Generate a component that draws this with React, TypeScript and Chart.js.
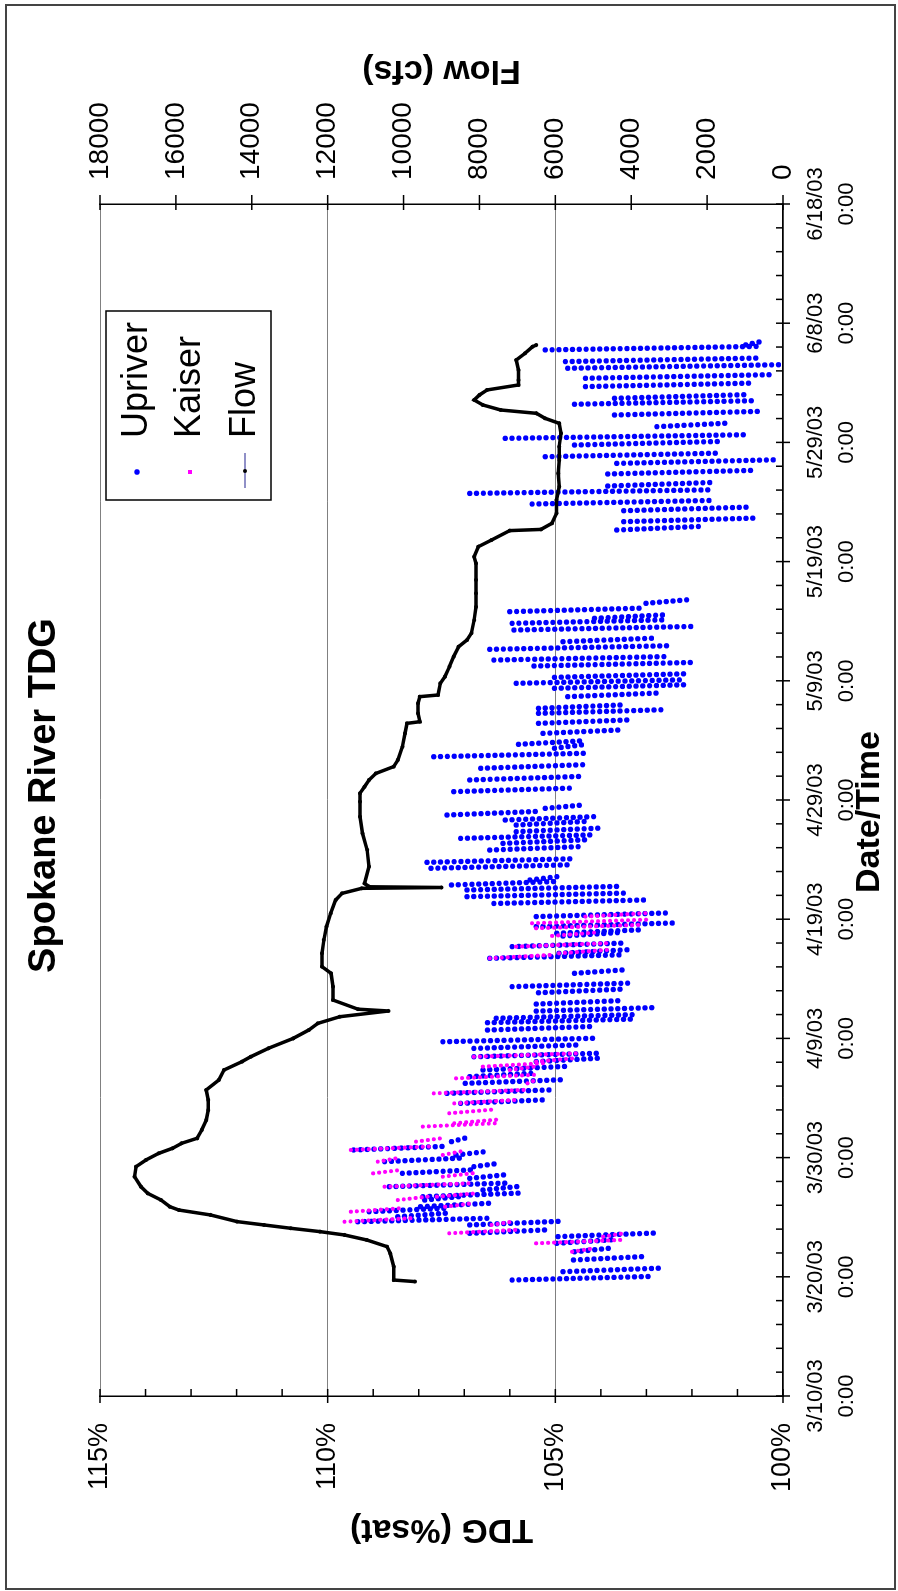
import React, { useEffect, useRef } from 'react';
import { Chart, registerables } from 'chart.js';

Chart.register(...registerables);

const FONT = "'Liberation Sans', Arial, Helvetica, sans-serif";

// ---------- data (x = days since 3/10/03 0:00) ----------
const dateTickLabels = ['3/10/03', '3/20/03', '3/30/03', '4/9/03', '4/19/03', '4/29/03', '5/9/03', '5/19/03', '5/29/03', '6/8/03', '6/18/03'];
const dateTimeLabel = '0:00';

// Upriver daily swings: day, max TDG, min TDG (%)
const upriverDay = [9.73, 10.43, 11.41, 12.1, 12.81, 13.37, 13.65, 14.35, 14.62, 15.04, 15.46, 15.88, 16.44, 16.72, 17.28, 17.56, 18.26, 18.68, 19.24, 19.66, 20.22, 20.64, 21.34,
  24.55, 25.39, 26.23, 26.79, 27.35, 28.05, 28.46, 29.16, 29.72, 30.7, 31.32, 31.69, 32.29, 32.88, 33.83, 34.34, 35.46, 36.72, 37.14, 37.7, 38.59, 38.82, 39.38, 40.22, 41.32, 41.89, 42.45, 42.87, 43.29, 44.27, 44.77, 45.8, 46.36, 46.78, 47.34, 47.9, 48.32, 48.74, 49.3,
  50.7, 51.68, 52.66, 53.63, 54.34, 54.67, 55.59, 56.43, 57.27, 57.69, 58.67, 59.37, 59.79, 60.29, 61.24, 61.74, 62.64, 63.28, 64.26, 64.82, 65.24, 65.8, 66.5,
  72.65, 73.35, 74.27, 74.83, 75.72, 76.34, 77.35, 78.24, 78.8, 79.78, 80.34, 81.32, 82.3, 83.2, 83.7, 84.68, 85.38, 86.22, 86.78, 87.76, 88.18];
const upriverMax = [105.95, 104.83, 104.6, 104.58, 104.97, 104.94, 106.88, 106.88, 109.34, 108.46, 109.09, 107.96, 107.87, 107.91, 106.59, 108.65, 106.88, 108.36, 106.79, 108.75, 107.18, 109.43, 107.28,
  107.08, 107.38, 106.98, 106.88, 106.59, 105.42, 106.79, 106.79, 107.47, 106.49, 106.49, 106.3, 105.42, 105.42, 105.37, 105.95, 104.58, 106.44, 104.92, 105.95, 104.83, 104.97, 105.42, 105.42, 106.35, 106.94, 106.94, 107.28, 105.56, 107.73, 107.82, 106.44, 106.15, 107.08, 105.86, 105.86, 106.1, 107.38, 105.22,
  107.23, 106.88, 106.64, 107.67, 105.02, 105.81, 105.27, 105.37, 105.37, 105.37, 104.73, 105.02, 105.86, 105.02, 105.47, 106.35, 106.44, 104.83, 105.91, 105.95, 104.14, 106.0, 103.01,
  103.65, 103.5, 103.5, 105.51, 106.88, 103.85, 103.85, 103.65, 105.22, 104.58, 106.1, 102.77, 103.7, 104.58, 103.7, 104.34, 104.34, 104.73, 104.78, 105.22, 100.82];
const upriverMin = [102.91, 102.67, 103.0, 103.8, 103.75, 102.82, 105.12, 104.94, 106.4, 107.38, 107.38, 106.4, 107.08, 105.81, 105.81, 106.1, 106.1, 106.79, 106.2, 107.08, 106.49, 107.47, 106.98,
  105.22, 105.02, 104.87, 105.42, 104.78, 104.0, 104.0, 104.44, 104.04, 104.2, 103.31, 103.31, 102.77, 103.5, 103.56, 103.36, 103.46, 103.46, 103.4, 103.46, 103.56, 103.06, 102.42, 102.57, 102.96, 103.46, 103.65, 104.92, 104.92, 104.63, 104.63, 104.39, 104.34, 104.14, 104.04, 104.34, 104.04, 105.42, 104.34,
  104.63, 104.44, 104.39, 104.24, 104.39, 104.39, 103.5, 103.31, 102.67, 103.44, 102.77, 102.13, 102.13, 102.13, 101.98, 102.47, 102.52, 102.82, 101.98, 102.52, 102.57, 103.06, 102.09,
  101.83, 100.61, 100.76, 101.59, 101.59, 101.55, 100.71, 100.17, 101.39, 101.39, 100.86, 101.2, 100.56, 100.61, 100.86, 100.61, 100.27, 100.02, 100.46, 100.46, 100.46];

// Kaiser daily swings
const kaiserDay = [12.1, 12.81, 13.37, 13.65, 14.35, 14.62, 15.46, 15.88, 16.44, 16.72, 17.56, 18.4, 18.68, 19.66, 20.22, 20.64, 21.34, 22.6, 22.88, 23.72, 24.55, 25.39, 26.23, 26.65, 27.35, 27.63, 28.05, 28.46,
  36.72, 37.14, 37.7, 38.6, 39.24, 39.66, 40.22];
const kaiserMax = [104.63, 105.42, 103.95, 107.33, 106.4, 109.63, 109.49, 107.42, 108.46, 107.6, 108.75, 107.47, 109.0, 108.9, 107.47, 109.49, 108.06, 107.91, 107.22, 107.33, 107.22, 107.67, 105.61, 107.18, 106.0, 106.59, 105.42, 106.79,
  106.44, 104.92, 105.86, 105.07, 105.42, 105.51, 104.34];
const kaiserMin = [104.14, 103.46, 103.46, 105.81, 105.91, 108.16, 108.36, 106.79, 107.77, 106.69, 106.79, 106.79, 108.36, 108.46, 107.08, 107.72, 107.47, 106.2, 106.3, 106.4, 105.81, 105.61, 105.42, 105.42, 105.42, 105.22, 104.53, 104.44,
  105.02, 103.8, 103.8, 104.04, 103.06, 103.0, 102.96];

// Flow (cfs)
const flowDay = [9.6, 9.73, 10.85, 11.96, 12.53, 13.09, 13.51, 13.79, 14.07, 14.35, 14.63, 15.19, 15.6, 15.88, 16.44, 17.0, 17.56, 18.4, 19.24, 19.8, 20.36, 20.78, 21.2, 21.62, 22.31, 23.15, 23.99, 24.83, 25.67, 26.51, 27.35, 28.05,
  28.46, 29.17, 30.0, 30.7, 31.26, 31.82, 32.3, 32.45, 33.22, 34.34, 35.46, 36.02, 37.14, 38.26, 39.38, 40.49, 41.61, 42.17, 42.59, 42.66, 42.72, 43.0, 44.41, 45.81, 47.2, 48.6, 49.86,
  50.56, 51.11, 51.68, 52.23, 52.8, 53.36, 54.47, 55.59, 56.43, 56.57, 57.27, 58.11, 58.67, 58.81, 59.79, 60.35, 61.19, 62.03, 62.86, 63.42, 64.0, 65.1, 66.2, 67.34, 68.46, 69.85,
  70.41, 71.25, 71.81, 72.6, 72.7, 73.21, 74.05, 75.17, 76.29, 77.4, 78.52, 79.64, 80.76, 81.6, 82.02, 82.44, 82.72, 83.14, 83.56, 83.98, 84.4, 84.82, 85.23, 86.07, 86.91, 87.47, 88.03, 88.17];
const flowCfs = [9700, 10260, 10260, 10350, 10437, 10970, 11557, 12200, 12970, 13680, 14390, 15090, 15920, 16160, 16390, 16740, 16920, 17090, 17050, 16790, 16450, 16090, 15850, 15440, 15320, 15200, 15150, 15150, 15200, 14870, 14730, 14260,
  14030, 13560, 12910, 12500, 12260, 11680, 10400, 11200, 11860, 11860, 11910, 12150, 12150, 12100, 12030, 11920, 11790, 11620, 11100, 9000, 10900, 11030, 10910, 10960, 11080, 11150, 11150,
  11150, 11030, 10910, 10730, 10260, 10150, 10030, 9960, 9910, 9570, 9620, 9620, 9570, 9090, 9030, 8910, 8790, 8680, 8550, 8330, 8210, 8140, 8090, 8090, 8090, 8090,
  8140, 8030, 7680, 7200, 6380, 6090, 5970, 5970, 5900, 5920, 5900, 5900, 5850, 5900, 6270, 6500, 7440, 7910, 8140, 8000, 7800, 6970, 6970, 6970, 7030, 6800, 6600, 6500];

// ---------- layout (landscape drawing, rotated on the page) ----------
const W = 1591;
const H = 898;
const PLOT_LEFT = 195;
const PLOT_RIGHT = 1387;
const PLOT_BOTTOM = 783;
const ROW_SLANT = 0.3; // days between a swing's high and low end

function swingRows(day: number[], hi: number[], lo: number[]) {
  const out: { x: number; y: number | null }[] = [];
  for (let i = 0; i < day.length; i++) {
    out.push({ x: day[i], y: hi[i] });
    out.push({ x: day[i] + ROW_SLANT, y: lo[i] });
    out.push({ x: day[i] + ROW_SLANT, y: null });
  }
  return out;
}

const axisMarks = {
  id: 'axisMarks',
  afterDraw(chart: any) {
    const { ctx, chartArea: a, scales } = chart;
    ctx.save();
    ctx.strokeStyle = '#000';
    ctx.lineWidth = 1.5;
    const seg = (x1: number, y1: number, x2: number, y2: number) => {
      ctx.beginPath();
      ctx.moveTo(x1, y1);
      ctx.lineTo(x2, y2);
      ctx.stroke();
    };
    for (let d = 0; d <= 100; d += 2) {
      const x = scales.x.getPixelForValue(d);
      const major = d % 10 === 0;
      seg(x, a.bottom - 7, x, a.bottom + (major ? 7 : 0));
    }
    for (let v = 100; v <= 115; v += 1) {
      const y = scales.y.getPixelForValue(v);
      const major = v % 5 === 0;
      seg(a.left - (major ? 7 : 0), y, a.left + 7, y);
    }
    for (let v = 0; v <= 18000; v += 2000) {
      const y = scales.y1.getPixelForValue(v);
      seg(a.right - 6, y, a.right + 9, y);
    }
    ctx.fillStyle = '#000';
    ctx.textAlign = 'center';
    ctx.textBaseline = 'middle';
    ctx.font = `bold 34px ${FONT}`;
    // bottom axis title
    ctx.fillText('Date/Time', (a.left + a.right) / 2 - 12, 870);
    // right axis title (reads bottom-to-top)
    ctx.translate(a.right + 134, (a.top + a.bottom) / 2);
    ctx.rotate(-Math.PI / 2);
    ctx.fillText('Flow (cfs)', 0, 0);
    ctx.restore();
  },
};

const legendBox = {
  id: 'legendBox',
  afterDraw(chart: any) {
    const { ctx, chartArea: a } = chart;
    const x0 = a.right - 296;
    const y0 = a.top + 6;
    const w = 189;
    const h = 165;
    ctx.save();
    ctx.fillStyle = '#fff';
    ctx.fillRect(x0, y0, w, h);
    ctx.strokeStyle = '#000';
    ctx.lineWidth = 1.5;
    ctx.strokeRect(x0, y0, w, h);
    const rows = [y0 + 31, y0 + 84, y0 + 139];
    const labels = ['Upriver', 'Kaiser', 'Flow'];
    ctx.fillStyle = '#000';
    ctx.font = `36px ${FONT}`;
    ctx.textAlign = 'left';
    ctx.textBaseline = 'middle';
    labels.forEach((t, i) => ctx.fillText(t, x0 + 62, rows[i]));
    ctx.fillStyle = '#0000ff';
    ctx.beginPath();
    ctx.arc(x0 + 28, rows[0], 2.8, 0, Math.PI * 2);
    ctx.fill();
    ctx.fillStyle = '#ff00ff';
    ctx.fillRect(x0 + 26, rows[1] - 2, 4, 4);
    ctx.strokeStyle = '#6b6bb5';
    ctx.lineWidth = 1.5;
    ctx.beginPath();
    ctx.moveTo(x0 + 12, rows[2]);
    ctx.lineTo(x0 + 47, rows[2]);
    ctx.stroke();
    ctx.fillStyle = '#000';
    ctx.beginPath();
    ctx.arc(x0 + 29, rows[2], 2, 0, Math.PI * 2);
    ctx.fill();
    ctx.restore();
  },
};

export default function App() {
  const ref = useRef<HTMLCanvasElement | null>(null);

  useEffect(() => {
    if (!ref.current) return;
    Chart.defaults.font.family = FONT;
    Chart.defaults.color = '#000';
    const chart = new Chart(ref.current, {
      type: 'line',
      data: {
        datasets: [
          {
            label: 'Flow',
            data: flowDay.map((d, i) => ({ x: d, y: flowCfs[i] })),
            yAxisID: 'y1',
            borderColor: '#000',
            borderWidth: 3.5,
            pointRadius: 2,
            pointBorderWidth: 0,
            pointBackgroundColor: '#000',
            order: 0,
          },
          {
            label: 'Kaiser',
            data: swingRows(kaiserDay, kaiserMax, kaiserMin),
            yAxisID: 'y',
            borderColor: '#ff00ff',
            borderWidth: 4.2,
            borderDash: [0, 6],
            borderCapStyle: 'round',
            pointRadius: 0,
            spanGaps: false,
            order: 1,
          },
          {
            label: 'Upriver',
            data: swingRows(upriverDay, upriverMax, upriverMin),
            yAxisID: 'y',
            borderColor: '#0000ff',
            borderWidth: 5.4,
            borderDash: [0, 6.8],
            borderCapStyle: 'round',
            pointRadius: 0,
            spanGaps: false,
            order: 2,
          },
        ],
      },
      options: {
        responsive: false,
        animation: false,
        events: [],
        layout: { padding: 0 },
        plugins: {
          legend: { display: false },
          tooltip: { enabled: false },
          title: {
            display: true,
            text: 'Spokane River TDG',
            color: '#000',
            font: { family: FONT, size: 38, weight: 'bold' },
            padding: { top: 22.2, bottom: 32.2 },
          },
        },
        scales: {
          x: {
            type: 'linear',
            min: 0,
            max: 100,
            ticks: {
              stepSize: 10,
              autoSkip: false,
              maxRotation: 0,
              padding: 18,
              color: '#000',
              font: { family: FONT, size: 22, lineHeight: 1.4 },
              callback: (v: any) => [dateTickLabels[Math.round(Number(v) / 10)] ?? '', dateTimeLabel],
            },
            grid: { display: false, drawTicks: false },
            border: { display: true, color: '#000', width: 1.5 },
            title: { display: false },
            afterFit: (s: any) => { s.height = H - PLOT_BOTTOM; },
          },
          y: {
            type: 'linear',
            position: 'left',
            min: 100,
            max: 115,
            ticks: {
              stepSize: 5,
              padding: 27,
              color: '#000',
              font: { family: FONT, size: 27 },
              callback: (v: any) => `${v}%`,
            },
            grid: { color: '#808080', lineWidth: 1, drawTicks: false },
            border: { display: true, color: '#000', width: 1.5 },
            title: {
              display: true,
              text: 'TDG (%sat)',
              color: '#000',
              font: { family: FONT, size: 34, weight: 'bold' },
              padding: { top: 41.6, bottom: 0 },
            },
            afterFit: (s: any) => { s.width = PLOT_LEFT; },
          },
          y1: {
            type: 'linear',
            position: 'right',
            min: 0,
            max: 18000,
            ticks: {
              stepSize: 2000,
              padding: 24,
              color: '#000',
              font: { family: FONT, size: 28 },
              callback: (v: any) => String(v),
            },
            grid: { display: false, drawTicks: false },
            border: { display: true, color: '#000', width: 1.5 },
            afterFit: (s: any) => { s.width = W - PLOT_RIGHT; },
          },
        },
      } as any,
      plugins: [axisMarks, legendBox],
    });
    return () => chart.destroy();
  }, []);

  return (
    <div style={{ position: 'absolute', left: 0, top: 0, width: 898, height: 1591, overflow: 'hidden', background: '#fff' }}>
      <div
        style={{
          position: 'absolute',
          left: 0,
          top: 0,
          width: W,
          height: H,
          transformOrigin: '0 0',
          transform: `translateY(${W}px) rotate(-90deg)`,
        }}
      >
        <canvas ref={ref} width={W} height={H} style={{ display: 'block', width: W, height: H }} />
      </div>
      <div
        style={{
          position: 'absolute',
          left: 5,
          top: 4,
          width: 891,
          height: 1586,
          border: '2px solid #444',
          boxSizing: 'border-box',
          pointerEvents: 'none',
        }}
      />
    </div>
  );
}
